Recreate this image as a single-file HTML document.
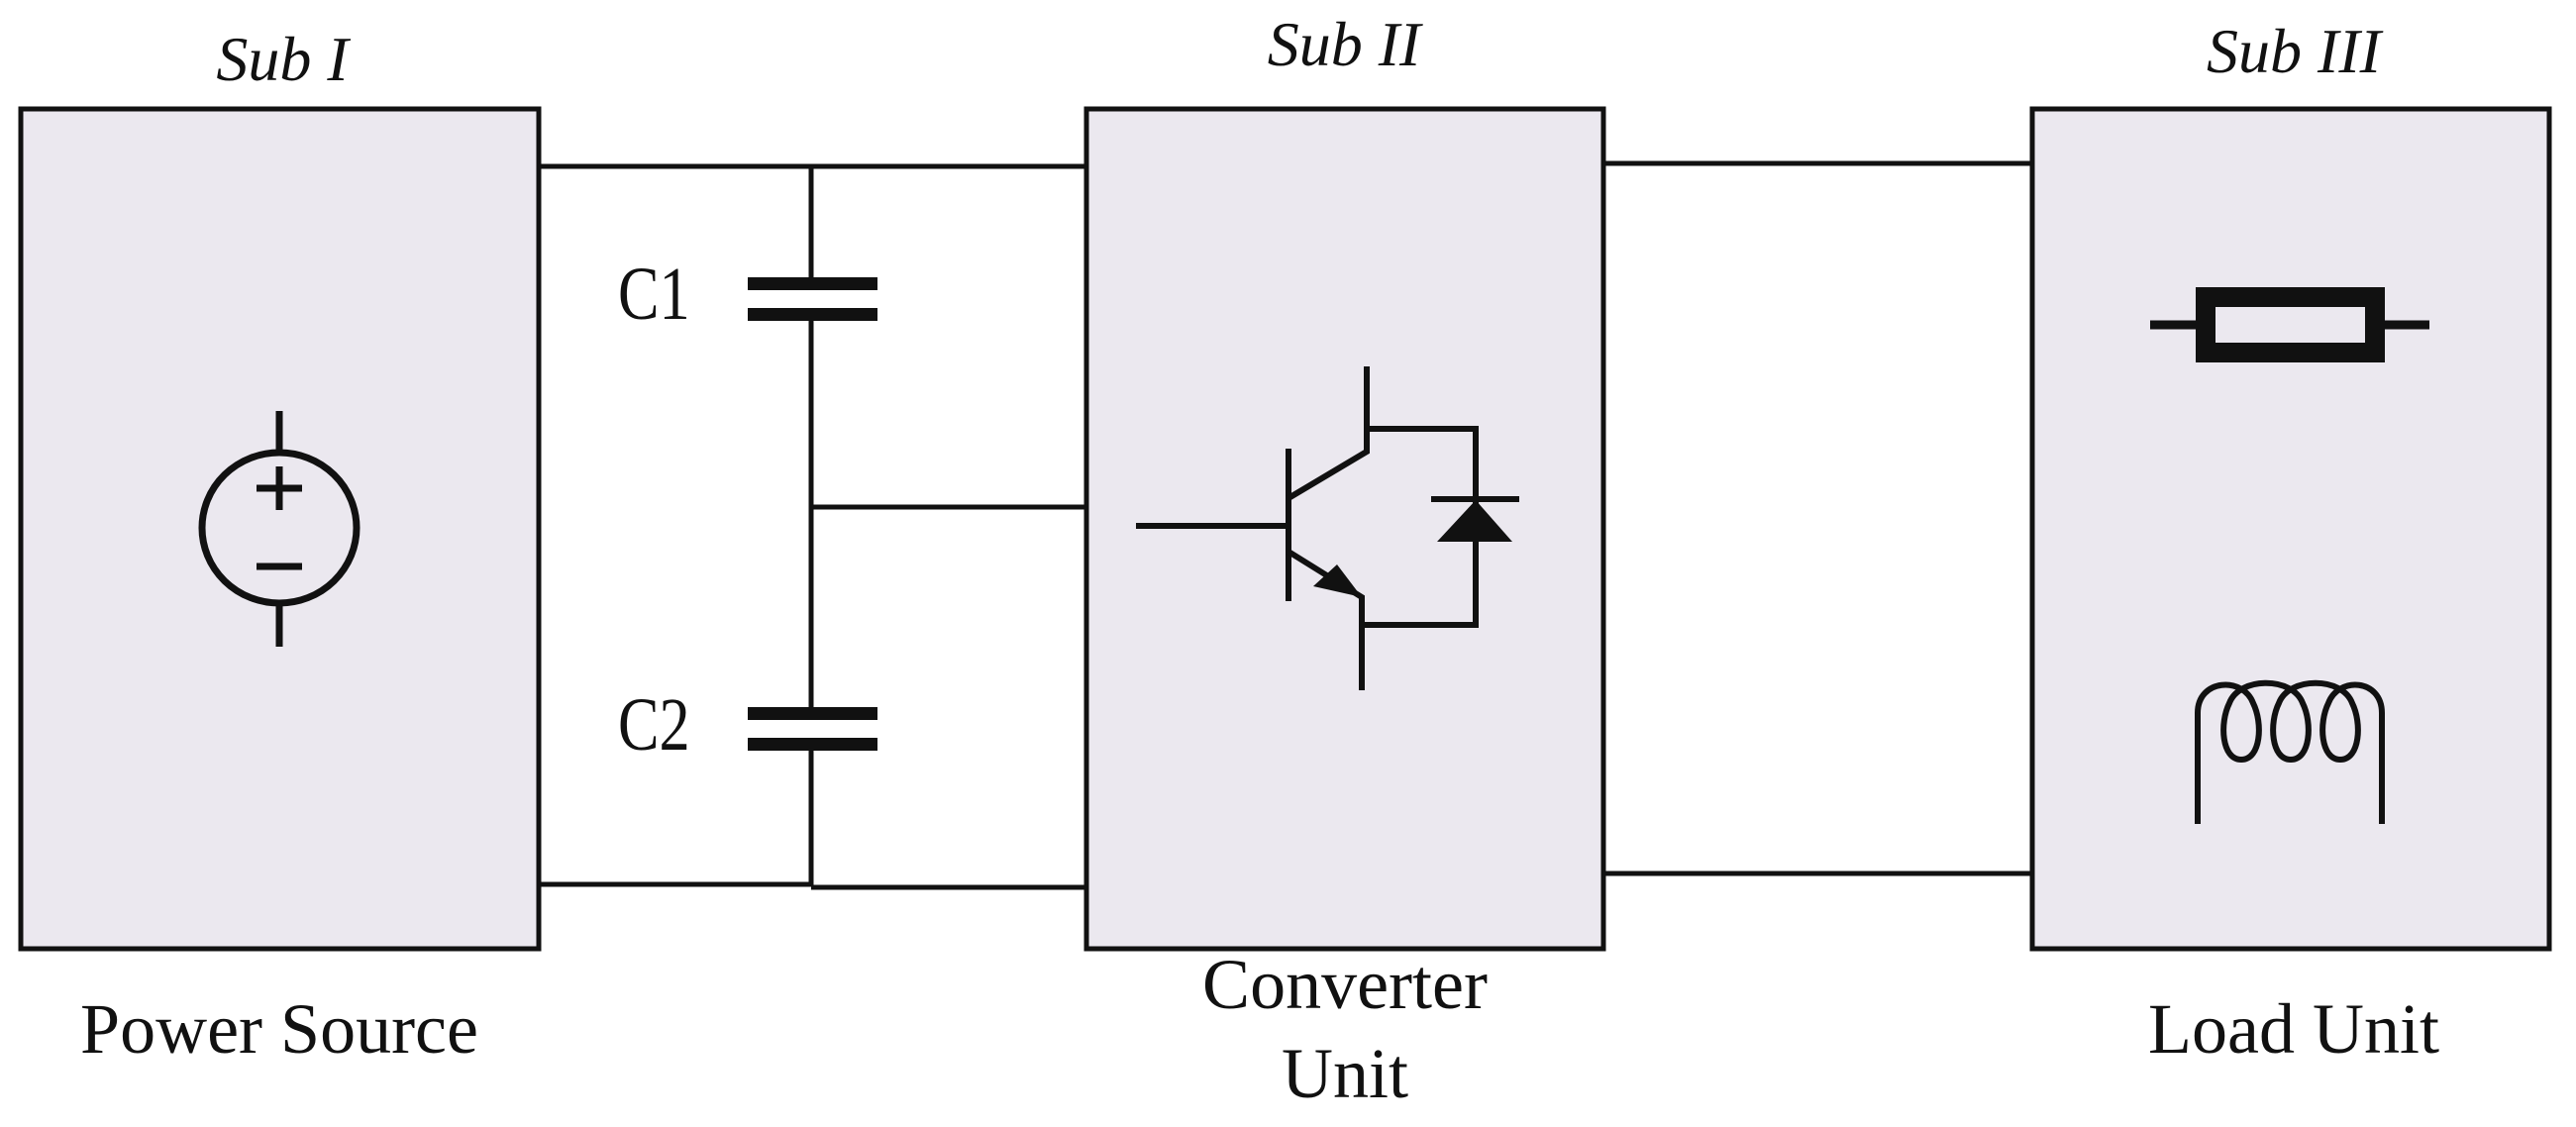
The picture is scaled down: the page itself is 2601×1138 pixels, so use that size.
<!DOCTYPE html>
<html><head><meta charset="utf-8"><style>
html,body{margin:0;padding:0;background:#fff;}
svg{display:block;}
text{font-family:"Liberation Serif",serif;fill:#111;}
</style></head><body>
<svg width="2601" height="1138" viewBox="0 0 2601 1138" xmlns="http://www.w3.org/2000/svg">
<g fill="#ebe8ef" stroke="#111" stroke-width="5">
<rect x="21" y="110" width="523" height="848"/>
<rect x="1097" y="110" width="522" height="848"/>
<rect x="2052" y="110" width="522" height="848"/>
</g>
<g stroke="#111" stroke-width="5" fill="none">
<line x1="544" y1="168" x2="1097" y2="168"/>
<line x1="819" y1="168" x2="819" y2="895"/>
<line x1="819" y1="512" x2="1097" y2="512"/>
<line x1="544" y1="893" x2="819" y2="893"/>
<line x1="819" y1="896" x2="1097" y2="896"/>
<line x1="1619" y1="165" x2="2052" y2="165"/>
<line x1="1619" y1="882" x2="2052" y2="882"/>
</g>
<!-- capacitors -->
<g fill="#fff" stroke="none"><rect x="750" y="292" width="140" height="20"/><rect x="750" y="726" width="140" height="20"/></g>
<g fill="#111">
<rect x="755" y="280" width="131" height="13"/><rect x="755" y="311" width="131" height="13"/>
<rect x="755" y="714" width="131" height="13"/><rect x="755" y="745" width="131" height="13"/>
</g>
<text transform="translate(624,322) scale(0.82,1)" font-size="76">C1</text>
<text transform="translate(624,757) scale(0.82,1)" font-size="76">C2</text>
<!-- source -->
<g stroke="#111" stroke-width="7" fill="none">
<ellipse cx="282" cy="533" rx="78" ry="76"/>
<line x1="282" y1="415" x2="282" y2="457"/>
<line x1="282" y1="609" x2="282" y2="653"/>
<line x1="259" y1="493" x2="305" y2="493"/>
<line x1="282" y1="471" x2="282" y2="515"/>
<line x1="259" y1="572" x2="305" y2="572"/>
</g>
<!-- IGBT -->
<g stroke="#111" stroke-width="6" fill="none">
<line x1="1147" y1="531" x2="1301" y2="531"/>
<line x1="1301" y1="453" x2="1301" y2="607"/>
<polyline points="1301,503 1380,456 1380,370"/>
<polyline points="1380,433 1490,433 1490,631 1375,631"/>
<polyline points="1301,557 1375,603 1375,697"/>
<line x1="1445" y1="504" x2="1534" y2="504"/>
</g>
<polygon points="1375,603 1326,592 1350,570" fill="#111"/>
<polygon points="1490,505 1451,547 1527,547" fill="#111"/>
<!-- resistor -->
<g stroke="#111" fill="none">
<line x1="2171" y1="328" x2="2453" y2="328" stroke-width="9"/>
<rect x="2227" y="300" width="171" height="56" stroke-width="20" fill="#ebe8ef"/>
</g>
<!-- inductor -->
<path d="M2219,832 V720 C2219,685 2265,683 2275,710 C2285,730 2283,767 2263,767 C2243,767 2241,730 2251,710 C2261,683 2315,683 2325,710 C2335,730 2333,767 2313,767 C2293,767 2291,730 2301,710 C2311,683 2365,683 2375,710 C2385,730 2383,767 2363,767 C2343,767 2341,730 2351,710 C2361,683 2405,685 2405,720 V832" stroke="#111" stroke-width="6" fill="none"/>
<!-- labels -->
<g font-style="italic" font-size="64" text-anchor="middle">
<text x="285" y="81">Sub I</text>
<text x="1357" y="66">Sub II</text>
<text x="2316" y="73">Sub III</text>
</g>
<g font-size="72" text-anchor="middle">
<text x="282" y="1063">Power Source</text>
<text x="1358" y="1018">Converter</text>
<text x="1358" y="1108">Unit</text>
<text x="2316" y="1063">Load Unit</text>
</g>
</svg>
</body></html>
